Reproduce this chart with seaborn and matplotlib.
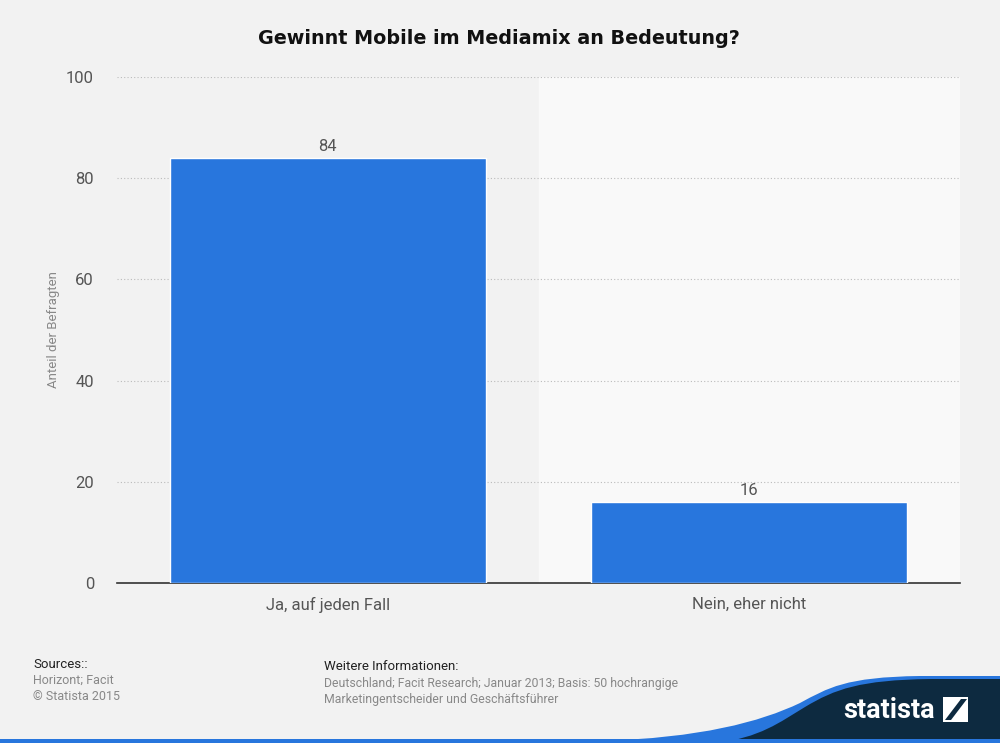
import matplotlib
matplotlib.use("Agg")
import matplotlib.pyplot as plt
import seaborn as sns
import pandas as pd
from matplotlib.path import Path
from matplotlib.patches import PathPatch, Rectangle, Polygon

categories = ["Ja, auf jeden Fall", "Nein, eher nicht"]
values = [84, 16]
yticks = [0, 20, 40, 60, 80, 100]

sns.set_theme(style="white")
plt.rcParams['font.family'] = ['Roboto', 'DejaVu Sans']

BG = "#f2f2f2"
fig = plt.figure(figsize=(10, 7.43), dpi=100, facecolor=BG)
ax = fig.add_axes([0.117, 0.2153, 0.843, 0.681])
ax.set_facecolor(BG)

df = pd.DataFrame({"cat": categories, "val": values})
ax.axvspan(0.5, 1.5, color="#f9f9f9", zorder=0)
sns.barplot(data=df, x="cat", y="val", color="#2876dd", saturation=1, width=0.75, ax=ax, zorder=3)
ax.set_xlim(-0.5, 1.5)
ax.set_ylim(0, 100)
ax.set_yticks(yticks)
ax.yaxis.grid(True, linestyle=(0, (1, 2)), color="#bbbbbb", linewidth=0.8, zorder=1)
ax.set_axisbelow(True)
for s in ["top", "right", "left"]:
    ax.spines[s].set_visible(False)
ax.spines["bottom"].set_color("#333333")
ax.spines["bottom"].set_linewidth(1.2)
ax.tick_params(axis="both", length=0, labelsize=12, labelcolor="#555555")
ax.tick_params(axis="x", pad=10)
ax.tick_params(axis="y", pad=16.5)
ax.set_xlabel("")
ax.set_ylabel("Anteil der Befragten", fontsize=9.5, color="#888888")
ax.yaxis.set_label_coords(-0.068, 0.5)
for c in ax.containers:
    ax.bar_label(c, fmt="%d", padding=3, fontsize=12, color="#555555")

fig.text(0.499, 0.948, "Gewinnt Mobile im Mediamix an Bedeutung?", ha="center", va="center",
         fontsize=13.8, fontweight="bold", color="#111111", family="DejaVu Sans")

# footer
fig.text(0.033, 1 - 664 / 743, "Sources::", fontsize=9.5, color="#222222", va="center")
fig.text(0.033, 1 - 680 / 743, "Horizont; Facit", fontsize=9, color="#888888", va="center")
fig.text(0.033, 1 - 696 / 743, "© Statista 2015", fontsize=9, color="#888888", va="center")
fig.text(0.324, 1 - 666 / 743, "Weitere Informationen:", fontsize=9.5, color="#222222", va="center")
fig.text(0.324, 1 - 684 / 743, "Deutschland; Facit Research; Januar 2013; Basis: 50 hochrangige",
         fontsize=8.8, color="#888888", va="center")
fig.text(0.324, 1 - 699 / 743, "Marketingentscheider und Geschäftsführer",
         fontsize=8.8, color="#888888", va="center")

def P(px, py):
    return (px / 1000, 1 - py / 743)

codes = [Path.MOVETO, Path.CURVE4, Path.CURVE4, Path.CURVE4, Path.CURVE4, Path.CURVE4, Path.CURVE4,
         Path.LINETO, Path.LINETO, Path.LINETO, Path.CLOSEPOLY]
blue_verts = [P(600, 741), P(700, 738), P(760, 722), P(800, 703), P(828, 688), P(845, 677),
              P(920, 676), P(1000, 676), P(1000, 743), P(600, 743), P(600, 741)]
fig.patches.append(PathPatch(Path(blue_verts, codes), facecolor="#2876dd", edgecolor="none",
                             transform=fig.transFigure, zorder=1))
dark_verts = [P(715, 743), P(760, 738), P(780, 722), P(805, 707), P(835, 689), P(860, 680),
              P(930, 679), P(1000, 679), P(1000, 743), P(715, 743), P(715, 743)]
fig.patches.append(PathPatch(Path(dark_verts, codes), facecolor="#0d2a40", edgecolor="none",
                             transform=fig.transFigure, zorder=2))
# bottom blue line
fig.patches.append(Rectangle((0, 0), 1, 4 / 743, facecolor="#2876dd", edgecolor="none",
                             transform=fig.transFigure, zorder=3))
fig.text(843 / 1000, 1 - 711 / 743, "statista", fontsize=19.5, fontweight="bold", color="white",
         va="center", ha="left", zorder=5)
# icon
fig.patches.append(Rectangle(P(943, 722), 25 / 1000, 25 / 743, facecolor="white",
                             edgecolor="none", transform=fig.transFigure, zorder=4))
fig.patches.append(Polygon([P(945, 720), P(961, 699), P(967, 699), P(951, 720)], closed=True,
                           facecolor="#0d2a40", edgecolor="none", transform=fig.transFigure, zorder=5))

fig.savefig("out.png", dpi=100, facecolor=BG)
